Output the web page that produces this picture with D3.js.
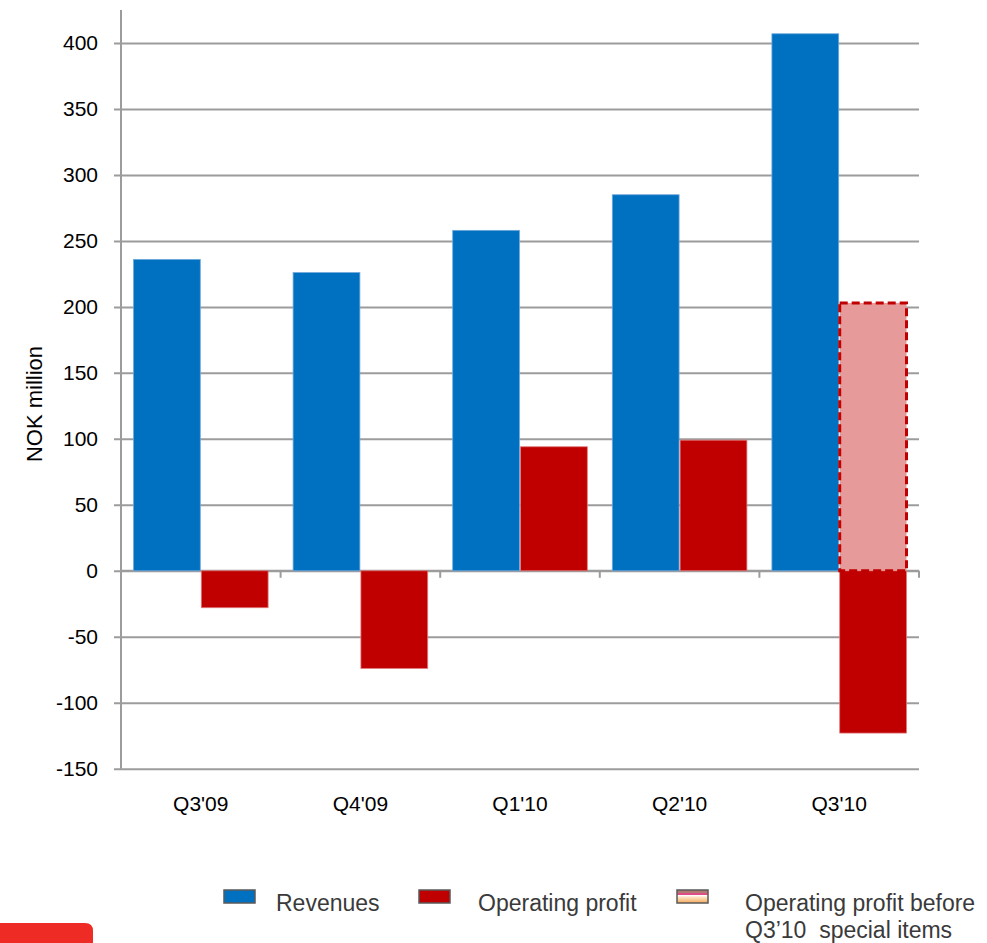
<!DOCTYPE html>
<html>
<head>
<meta charset="utf-8">
<script src="https://cdn.jsdelivr.net/npm/d3@7"></script>
<style>
  html, body { margin: 0; padding: 0; background: #fff; }
  svg { display: block; font-family: "Liberation Sans", Arial, sans-serif; }
  text { white-space: pre; }
</style>
</head>
<body>
<svg id="chart" width="987" height="943"></svg>
<script>
// Quarterly figures, NOK million
const categories = ["Q3'09", "Q4'09", "Q1'10", "Q2'10", "Q3'10"];
const revenues = [236, 226, 258, 285, 407];
const operatingProfit = [-28, -74, 94, 99, -123];
const profitBeforeSpecial = [null, null, null, null, 203];
const yTicks = [-150, -100, -50, 0, 50, 100, 150, 200, 250, 300, 350, 400];
const seriesKeys = ["rev", "op"];
const legendLabels = ["Revenues", "Operating profit", "Operating profit before", "Q3\u201910  special items"];

const svg = d3.select("#chart");

const plot = { left: 121, right: 919, top: 43, bottom: 768.7, axisTop: 10 };

const y = d3.scaleLinear().domain([-150, 400]).range([plot.bottom, plot.top]);
const x0 = d3.scaleBand().domain(categories).range([plot.left, plot.right]).padding(0);
const x1 = d3.scaleBand().domain(seriesKeys)
  .range([12.5, x0.bandwidth() - 12.5]).paddingInner(0.015);

const gridColor = "#9c9c9c";

// Horizontal gridlines with left tick marks
const yAxis = d3.axisLeft(y).tickValues(yTicks).tickSize(plot.left - plot.right).tickSizeOuter(0)
  .tickPadding(23).tickFormat(d => String(d));
const gy = svg.append("g").attr("transform", `translate(${plot.left},0)`).call(yAxis);
gy.select(".domain").remove();
gy.selectAll(".tick line").attr("stroke", gridColor).attr("stroke-width", 2).attr("x1", -7);
gy.selectAll(".tick text").attr("font-size", 21).attr("fill", "#000")
  .attr("font-family", "'Liberation Sans', Arial, sans-serif");

// Vertical axis line
svg.append("line")
  .attr("x1", plot.left).attr("x2", plot.left)
  .attr("y1", plot.axisTop).attr("y2", plot.bottom)
  .attr("stroke", gridColor).attr("stroke-width", 2);

// Category axis along zero, ticks between categories
const boundaries = categories.map(c => x0(c) + x0.bandwidth());
svg.append("g").selectAll("line").data(boundaries).join("line")
  .attr("x1", d => d).attr("x2", d => d)
  .attr("y1", y(0)).attr("y2", y(0) + 7)
  .attr("stroke", gridColor).attr("stroke-width", 2);
svg.append("line")
  .attr("x1", plot.left).attr("x2", plot.right)
  .attr("y1", y(0)).attr("y2", y(0))
  .attr("stroke", gridColor).attr("stroke-width", 2);

// Bars
const groups = svg.append("g").selectAll("g").data(categories).join("g")
  .attr("transform", d => `translate(${x0(d)},0)`);

groups.append("rect")
  .attr("x", x1("rev")).attr("width", x1.bandwidth())
  .attr("y", (d, i) => y(Math.max(0, revenues[i])))
  .attr("height", (d, i) => Math.abs(y(revenues[i]) - y(0)))
  .attr("fill", "#0070C0").attr("stroke", "#6fa9dc").attr("stroke-width", 0.8);

groups.append("rect")
  .attr("x", x1("op")).attr("width", x1.bandwidth())
  .attr("y", (d, i) => y(Math.max(0, operatingProfit[i])))
  .attr("height", (d, i) => Math.abs(y(operatingProfit[i]) - y(0)))
  .attr("fill", "#C00000").attr("stroke", "#e07a7a").attr("stroke-width", 0.8);

// Operating profit before special items (dashed outline)
groups.filter((d, i) => profitBeforeSpecial[i] != null).append("rect")
  .attr("x", x1("op")).attr("width", x1.bandwidth())
  .attr("y", d => y(profitBeforeSpecial[categories.indexOf(d)]))
  .attr("height", d => y(0) - y(profitBeforeSpecial[categories.indexOf(d)]))
  .attr("fill", "#E69A9A")
  .attr("stroke", "#C00000").attr("stroke-width", 3).attr("stroke-dasharray", "8,4");

// Category labels
svg.append("g").selectAll("text").data(categories).join("text")
  .attr("x", d => x0(d) + x0.bandwidth() / 2)
  .attr("y", 811)
  .attr("text-anchor", "middle").attr("font-size", 21).attr("fill", "#000")
  .text(d => d);

// Y axis title
svg.append("text")
  .attr("transform", "translate(42,404) rotate(-90)")
  .attr("text-anchor", "middle").attr("font-size", 22).attr("fill", "#000")
  .text("NOK million");

// Legend
const defs = svg.append("defs");
const grad = defs.append("linearGradient").attr("id", "specialGrad")
  .attr("x1", 0).attr("y1", 0).attr("x2", 0).attr("y2", 1);
[["0%", "#b07a72"], ["22%", "#b07a72"], ["24%", "#e04d86"], ["36%", "#e04d86"], ["40%", "#ffffff"],
 ["55%", "#fde3c4"], ["100%", "#f6a95a"]].forEach(([o, c]) => grad.append("stop").attr("offset", o).attr("stop-color", c));

const legendItems = [
  { x: 224, fill: "#0070C0", label: legendLabels[0], tx: 276 },
  { x: 419, fill: "#C00000", label: legendLabels[1], tx: 478 },
  { x: 677, fill: "url(#specialGrad)", label: legendLabels[2], tx: 745 }
];
const lg = svg.append("g");
lg.selectAll("rect").data(legendItems).join("rect")
  .attr("x", d => d.x).attr("y", 890).attr("width", 31).attr("height", 13)
  .attr("fill", d => d.fill).attr("stroke", "#5a5a5a").attr("stroke-width", 1.5);
lg.selectAll("text.l1").data(legendItems).join("text").attr("class", "l1")
  .attr("x", d => d.tx).attr("y", 911)
  .attr("font-size", 23).attr("fill", "#3a3a3a").text(d => d.label);
lg.append("text").attr("x", 745).attr("y", 938)
  .attr("font-size", 23).attr("fill", "#3a3a3a").text(legendLabels[3]);

// Red corner tab at bottom left
svg.append("path")
  .attr("d", "M0,923 H85 Q93,923 93,931 V943 H0 Z")
  .attr("fill", "#EE2B24");
</script>
</body>
</html>
